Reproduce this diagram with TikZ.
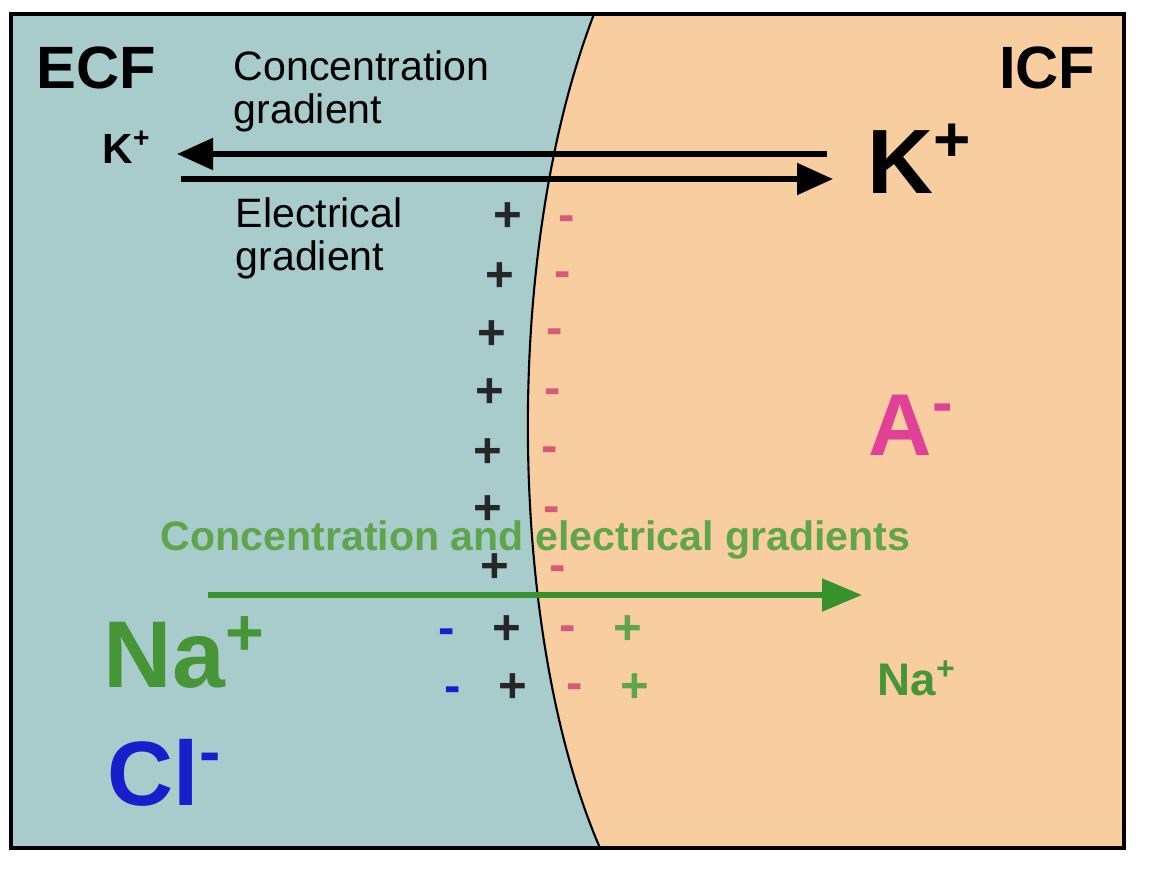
\documentclass[tikz,border=0pt]{standalone}
\usepackage{fontspec}
\setmainfont{Liberation Sans}
\usetikzlibrary{arrows.meta}
\definecolor{ecfteal}{RGB}{168,204,204}
\definecolor{icfpeach}{RGB}{248,206,160}
\definecolor{naGreen}{RGB}{70,150,55}
\definecolor{gradGreen}{RGB}{95,165,75}
\definecolor{arrowGreen}{RGB}{55,145,45}
\definecolor{clBlue}{RGB}{25,30,205}
\definecolor{minusPink}{RGB}{215,90,120}
\definecolor{anionPink}{RGB}{225,65,150}
\newcommand{\fsz}[1]{\fontsize{#1}{#1}\selectfont}

\begin{document}
\begin{tikzpicture}[x=0.1mm, y=-0.1mm, inner sep=0pt,
    txt/.style={anchor=base west},
    ion/.style={anchor=base west, font=\bfseries\fsz{#1}},
    charge/.style={anchor=mid, yshift=-0.5mm, font=\bfseries\fsz{14}},
    karrow/.style={-{Triangle[length=3.6mm, width=3.1mm]}, line width=1.5pt, black}]
  \useasboundingbox (0,0) rectangle (1150,876);
  % the two fluids and the membrane
  \fill[ecfteal] (11,14) rectangle (1124,848);
  \fill[icfpeach] (594,14) .. controls (500,260) and (510,640) .. (600,848)
    -- (1124,848) -- (1124,14) -- cycle;
  \draw[line width=0.6pt] (594,14) .. controls (500,260) and (510,640) .. (600,848);
  \draw[line width=0.9pt] (11,14) rectangle (1124,848);

  % charges along the membrane
  \foreach \x/\y [count=\i] in {508/217, 500/277, 492/335, 490/393, 488/453,
      488/510, 495/568, 507/630, 513/688}
    \node[charge, text=black!85] (pos\i) at (\x,\y) {+};
  \foreach \x/\y [count=\i] in {567/217, 563/273, 555/330, 553/390, 550/448,
      552/508, 558/567, 568/627, 575/685}
    \node[charge, text=minusPink] (neg\i) at (\x,\y) {-};
  \node[charge, text=clBlue] (clm1) at (447,630) {-};
  \node[charge, text=clBlue] (clm2) at (453,688) {-};
  \node[charge, text=gradGreen] (nap1) at (628,630) {+};
  \node[charge, text=gradGreen] (nap2) at (635,688) {+};

  % labels
  \node[ion=17] (ecf) at (36,88) {ECF};
  \node[ion=17, anchor=base east] (icf) at (1096,88) {ICF};
  \node[txt, font=\fsz{11.7}] (conc1) at (233,80) {Concentration};
  \node[txt, font=\fsz{11.7}] (conc2) at (233,123) {gradient};
  \node[txt, font=\fsz{11.7}] (elec1) at (235,227) {Electrical};
  \node[txt, font=\fsz{11.7}] (elec2) at (235,270) {gradient};
  \node[ion=12] (kout) at (102,163) {K\textsuperscript{+}};
  \node[ion=26] (kin) at (867,193) {K\textsuperscript{+}};
  \node[ion=25, text=anionPink] (anion) at (868,455) {A\textsuperscript{-}};
  \node[ion=11.7, text=gradGreen] (both) at (160,550)
    {Concentration and electrical gradients};
  \node[ion=27, text=naGreen] (naout) at (103,687) {Na\textsuperscript{+}};
  \node[ion=26, text=clBlue] (clout) at (107,805) {Cl\textsuperscript{-}};
  \node[ion=13, text=naGreen] (nain) at (877,695) {Na\textsuperscript{+}};

  % gradients
  \coordinate (kTopR) at (827,154);
  \coordinate (kTopL) at (177,154);
  \coordinate (kBotL) at (181,179);
  \coordinate (kBotR) at (833,179);
  \coordinate (naL) at (208,595);
  \coordinate (naR) at (862,595);
  \draw[karrow] (kTopR) -- (kTopL);
  \draw[karrow] (kBotL) -- (kBotR);
  \draw[karrow, arrowGreen, -{Triangle[length=4mm, width=3.2mm]}] (naL) -- (naR);
\end{tikzpicture}
\end{document}
